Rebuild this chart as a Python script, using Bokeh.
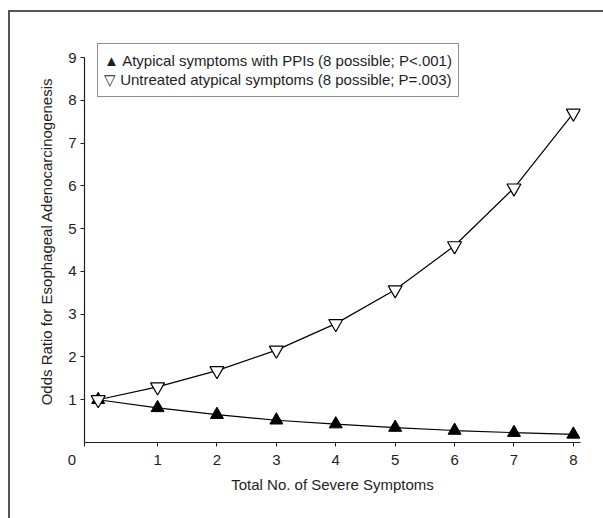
from bokeh.plotting import figure
from bokeh.models import FixedTicker, Legend, LegendItem
from bokeh.embed import file_html
from bokeh.resources import INLINE

symptoms = [0, 1, 2, 3, 4, 5, 6, 7, 8]
with_ppi = [1.0, 0.81, 0.65, 0.52, 0.43, 0.35, 0.28, 0.23, 0.19]
untreated = [1.0, 1.30, 1.68, 2.16, 2.78, 3.57, 4.60, 5.95, 7.70]
x_ticks = [1, 2, 3, 4, 5, 6, 7, 8]
y_ticks = [1, 2, 3, 4, 5, 6, 7, 8, 9]
label_ppi = "\u25b2 Atypical symptoms with PPIs (8 possible; P<.001)"
label_untreated = "\u25bd Untreated atypical symptoms (8 possible; P=.003)"
origin_label = "0"

FONT = "Liberation Sans"
INK = "#1e1e1e"
X_START = -0.23

p = figure(width=603, height=518, output_backend="svg", toolbar_location=None,
           x_range=(X_START, 8.12), y_range=(0, 9.4),
           min_border_left=84, min_border_right=23, min_border_top=40, min_border_bottom=76)
p.styles = {"box-shadow": "inset 8px 10px 0 0 white, inset 10px 12px 0 0 #555"}
p.grid.visible = False
p.outline_line_color = None
p.background_fill_color = "white"
p.border_fill_color = None

for ax in (p.xaxis[0], p.yaxis[0]):
    ax.axis_line_color = INK
    ax.axis_line_width = 1.2
    ax.major_tick_line_color = INK
    ax.major_tick_out = 4
    ax.major_tick_in = 0
    ax.minor_tick_line_color = None
    ax.major_label_text_font = FONT
    ax.major_label_text_font_size = "15px"
    ax.major_label_text_color = INK
    ax.axis_label_text_font = FONT
    ax.axis_label_text_font_size = "15px"
    ax.axis_label_text_font_style = "normal"
    ax.axis_label_text_color = INK

p.xaxis.ticker = FixedTicker(ticks=[X_START] + x_ticks)
p.xaxis.major_label_overrides = {X_START: origin_label + "\u00a0" * 6}
p.yaxis.ticker = FixedTicker(ticks=y_ticks)
p.yaxis.bounds = (0, 9)
p.xaxis.axis_label = "Total No. of Severe Symptoms"
p.yaxis.axis_label = "Odds Ratio for Esophageal Adenocarcinogenesis"
p.xaxis.major_label_standoff = 4
p.yaxis.major_label_standoff = 4
p.xaxis.axis_label_standoff = 5
p.yaxis.axis_label_standoff = 10

p.line(symptoms, with_ppi, line_color="black", line_width=1.2)
p.line(symptoms, untreated, line_color="black", line_width=1.2)
p.scatter(symptoms, with_ppi, marker="triangle", size=13,
          fill_color="black", line_color="black")
p.scatter(symptoms, untreated, marker="inverted_triangle", size=14,
          fill_color="white", line_color="black", line_width=1.2)

# invisible renderers: the legend symbols are part of the label text
k1 = p.scatter([], [], alpha=0)
k2 = p.scatter([], [], alpha=0)

legend = Legend(items=[LegendItem(label=label_ppi, renderers=[k1]),
                       LegendItem(label=label_untreated, renderers=[k2])],
                location=(13, 345), orientation="vertical")
legend.label_text_font = FONT
legend.label_text_font_size = "15px"
legend.label_text_color = INK
legend.border_line_color = INK
legend.border_line_width = 1
legend.background_fill_alpha = 1
legend.padding = 6
legend.spacing = 0
legend.margin = 0
legend.glyph_width = 0
legend.glyph_height = 20
legend.label_height = 20
legend.label_standoff = 0
p.add_layout(legend)

open("out.html", "w").write(file_html(p, INLINE))
